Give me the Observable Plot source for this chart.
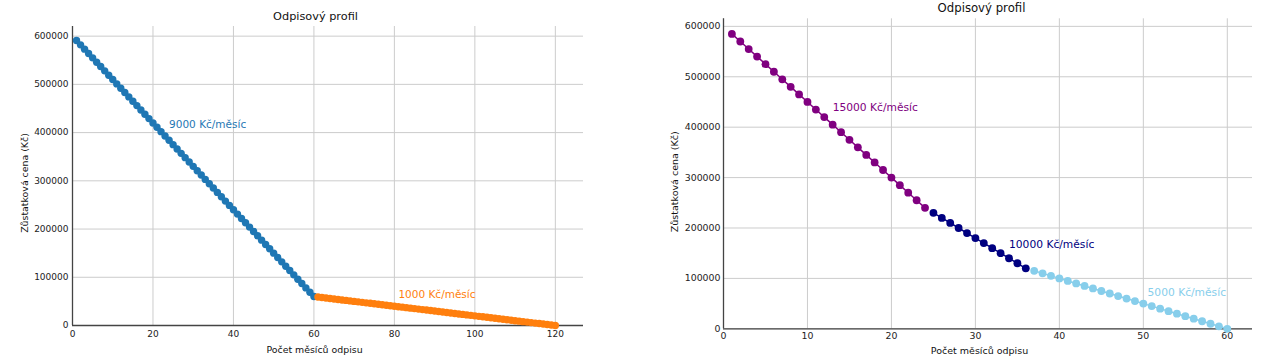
<!DOCTYPE html>
<html>
<head>
<meta charset="utf-8">
<script src="https://cdn.jsdelivr.net/npm/d3@7"></script>
<script src="https://cdn.jsdelivr.net/npm/@observablehq/plot@0.6"></script>
<style>
  html, body { margin: 0; padding: 0; background: white; }
  #wrap { display: flex; width: 1270px; height: 362px; }
  #wrap > div { width: 635px; height: 362px; }
</style>
</head>
<body>
<div id="wrap"><div id="left"></div><div id="right"></div></div>
<script>
// ---------- Data ----------
const title = "Odpisový profil";
const xLabel = "Počet měsíců odpisu";
const yLabel = "Zůstatková cena (Kč)";

// Left chart
const leftMonthsA = [1,2,3,4,5,6,7,8,9,10,11,12,13,14,15,16,17,18,19,20,21,22,23,24,25,26,27,28,29,30,31,32,33,34,35,36,37,38,39,40,41,42,43,44,45,46,47,48,49,50,51,52,53,54,55,56,57,58,59,60];
const leftValuesA = [591000,582000,573000,564000,555000,546000,537000,528000,519000,510000,501000,492000,483000,474000,465000,456000,447000,438000,429000,420000,411000,402000,393000,384000,375000,366000,357000,348000,339000,330000,321000,312000,303000,294000,285000,276000,267000,258000,249000,240000,231000,222000,213000,204000,195000,186000,177000,168000,159000,150000,141000,132000,123000,114000,105000,96000,87000,78000,69000,60000];
const leftMonthsB = [61,62,63,64,65,66,67,68,69,70,71,72,73,74,75,76,77,78,79,80,81,82,83,84,85,86,87,88,89,90,91,92,93,94,95,96,97,98,99,100,101,102,103,104,105,106,107,108,109,110,111,112,113,114,115,116,117,118,119,120];
const leftValuesB = [59000,58000,57000,56000,55000,54000,53000,52000,51000,50000,49000,48000,47000,46000,45000,44000,43000,42000,41000,40000,39000,38000,37000,36000,35000,34000,33000,32000,31000,30000,29000,28000,27000,26000,25000,24000,23000,22000,21000,20000,19000,18000,17000,16000,15000,14000,13000,12000,11000,10000,9000,8000,7000,6000,5000,4000,3000,2000,1000,0];
const leftXTicks = [0,20,40,60,80,100,120];
const leftYTicks = [0,100000,200000,300000,400000,500000,600000];
const leftNotes = [
  {label: "9000 Kč/měsíc", x: 24, y: 410000, series: "A"},
  {label: "1000 Kč/měsíc", x: 81, y: 57000, series: "B"}
];

// Right chart
const rightMonthsA = [1,2,3,4,5,6,7,8,9,10,11,12,13,14,15,16,17,18,19,20,21,22,23,24];
const rightValuesA = [585000,570000,555000,540000,525000,510000,495000,480000,465000,450000,435000,420000,405000,390000,375000,360000,345000,330000,315000,300000,285000,270000,255000,240000];
const rightMonthsB = [25,26,27,28,29,30,31,32,33,34,35,36];
const rightValuesB = [230000,220000,210000,200000,190000,180000,170000,160000,150000,140000,130000,120000];
const rightMonthsC = [37,38,39,40,41,42,43,44,45,46,47,48,49,50,51,52,53,54,55,56,57,58,59,60];
const rightValuesC = [115000,110000,105000,100000,95000,90000,85000,80000,75000,70000,65000,60000,55000,50000,45000,40000,35000,30000,25000,20000,15000,10000,5000,0];
const rightXTicks = [0,10,20,30,40,50,60];
const rightYTicks = [0,100000,200000,300000,400000,500000,600000];
const rightNotes = [
  {label: "15000 Kč/měsíc", x: 13, y: 433000, series: "A"},
  {label: "10000 Kč/měsíc", x: 34, y: 160000, series: "B"},
  {label: "5000 Kč/měsíc", x: 50.5, y: 66000, series: "C"}
];

const leftColors = {A: "#1f77b4", B: "#ff7f0e"};
const rightColors = {A: "#800080", B: "#000080", C: "#87ceeb"};

const zip = (xs, ys) => xs.map((m, i) => ({m, v: ys[i]}));

function seriesMarks(data, color, r) {
  return [
    Plot.line(data, {x: "m", y: "v", stroke: color, strokeWidth: 1.5}),
    Plot.dot(data, {x: "m", y: "v", fill: color, r})
  ];
}

function chart(cfg) {
  return Plot.plot({
    width: 635,
    height: 362,
    marginLeft: cfg.ml, marginRight: cfg.mr, marginTop: cfg.mt, marginBottom: cfg.mb,
    style: {fontFamily: "DejaVu Sans", fontSize: cfg.tickFont + "px", color: "#222", background: "white"},
    x: {domain: cfg.xDomain},
    y: {domain: cfg.yDomain},
    marks: [
      Plot.gridX(cfg.xTicks, {stroke: "#cccccc", strokeOpacity: 1, strokeWidth: 1}),
      Plot.gridY(cfg.yTicks, {stroke: "#cccccc", strokeOpacity: 1, strokeWidth: 1}),
      Plot.axisX(cfg.xTicks, {tickSize: 0, tickPadding: cfg.xPad, label: null, tickFormat: d => String(d), fill: "#222"}),
      Plot.axisY(cfg.yTicks, {tickSize: 0, tickPadding: cfg.yPad, label: null, tickFormat: d => String(d), fill: "#222"}),
      Plot.ruleX([0], {stroke: "#444", strokeWidth: 1.3}),
      Plot.ruleY([0], {stroke: "#444", strokeWidth: 1.3}),
      ...cfg.series.flatMap(s => seriesMarks(s.data, s.color, cfg.r)),
      Plot.text(cfg.notes, {x: "x", y: "y", text: "label", fill: d => cfg.colors[d.series],
        textAnchor: "start", lineAnchor: "bottom", fontSize: cfg.noteFont}),
      Plot.text([title], {frameAnchor: "top", text: d => d, dx: cfg.titleDx, dy: cfg.titleDy,
        textAnchor: "middle", lineAnchor: "middle", fontSize: cfg.titleFont, fill: "#111"}),
      Plot.text([xLabel], {frameAnchor: "bottom", text: d => d, dx: cfg.xlDx, dy: cfg.xlDy,
        textAnchor: "middle", lineAnchor: "middle", fontSize: cfg.labelFont, fill: "#111"}),
      Plot.text([yLabel], {frameAnchor: "left", text: d => d, dx: cfg.ylDx, dy: cfg.ylDy, rotate: -90,
        textAnchor: "middle", lineAnchor: "middle", fontSize: cfg.labelFont, fill: "#111"})
    ]
  });
}

document.getElementById("left").append(chart({
  ml: 72, mr: 52, mt: 26, mb: 37,
  xDomain: [0, 127], yDomain: [0, 620000],
  xTicks: leftXTicks, yTicks: leftYTicks,
  xPad: 5, yPad: 4, tickFont: 9, r: 3.7,
  series: [
    {data: zip(leftMonthsA, leftValuesA), color: leftColors.A},
    {data: zip(leftMonthsB, leftValuesB), color: leftColors.B}
  ],
  notes: leftNotes, colors: leftColors, noteFont: 10.5,
  titleDx: -12.5, titleDy: -10, titleFont: 11.3,
  xlDx: -13.5, xlDy: 24, labelFont: 9.4,
  ylDx: -48, ylDy: 7
}));

document.getElementById("right").append(chart({
  ml: 88, mr: 18, mt: 18.3, mb: 33.7,
  xDomain: [0, 63], yDomain: [0, 615000],
  xTicks: rightXTicks, yTicks: rightYTicks,
  xPad: 3.5, yPad: 3, tickFont: 9.4, r: 3.9,
  series: [
    {data: zip(rightMonthsA, rightValuesA), color: rightColors.A},
    {data: zip(rightMonthsB, rightValuesB), color: rightColors.B},
    {data: zip(rightMonthsC, rightValuesC), color: rightColors.C}
  ],
  notes: rightNotes, colors: rightColors, noteFont: 10.7,
  titleDx: -6.5, titleDy: -11, titleFont: 11.7,
  xlDx: -8.5, xlDy: 22, labelFont: 9.5,
  ylDx: -48.5, ylDy: 8
}));
</script>
</body>
</html>
